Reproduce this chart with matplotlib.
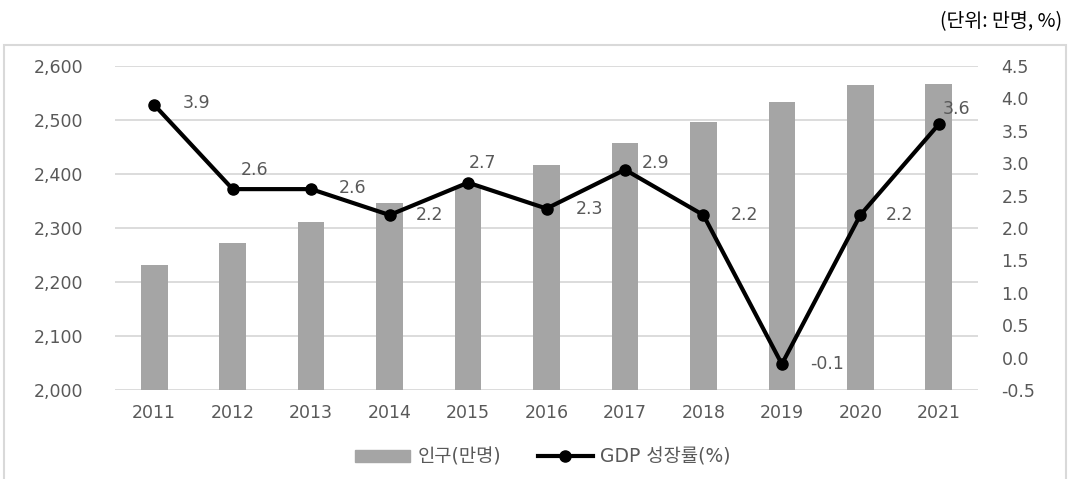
import matplotlib.pyplot as plt
import matplotlib.patches as mpatches
from matplotlib.lines import Line2D
import numpy as np

plt.rcParams['font.family'] = ['DejaVu Sans', 'Noto Sans CJK KR']

# data
years = ['2011', '2012', '2013', '2014', '2015', '2016',
         '2017', '2018', '2019', '2020', '2021']
population = [2231, 2272, 2312, 2346, 2378, 2417, 2457, 2496, 2533, 2564, 2567]
gdp_growth = [3.9, 2.6, 2.6, 2.2, 2.7, 2.3, 2.9, 2.2, -0.1, 2.2, 3.6]
gdp_labels = ['3.9', '2.6', '2.6', '2.2', '2.7', '2.3', '2.9', '2.2', '-0.1', '2.2', '3.6']

# label offsets in pixels (Excel pushed some of them around)
label_offsets = [(42, 2), (22, 19), (41, 1), (40, 0), (14, 20), (43, 0),
                 (31, 7), (41, 0), (45, 0), (39, 0), (18, 15)]

text_gray = '#595959'
bar_gray = '#a5a5a5'
grid_gray = '#d9d9d9'

fig = plt.figure(figsize=(10.71, 4.79), dpi=100)
ax = fig.add_axes([115 / 1071, 1 - 390 / 479, (978 - 115) / 1071, (390 - 66) / 479])

x = np.arange(len(years))
ax.bar(x, population, width=0.34, color=bar_gray, zorder=2)
ax.set_ylim(2000, 2600)
ax.set_yticks(np.arange(2000, 2601, 100))
ax.set_yticklabels([f'{v:,}' for v in range(2000, 2601, 100)])
ax.set_xlim(-0.5, len(years) - 0.5)
ax.set_xticks(x)
ax.set_xticklabels(years)
ax.grid(axis='y', color=grid_gray, linewidth=1.3, zorder=0)
ax.set_axisbelow(True)
for s in ax.spines.values():
    s.set_visible(False)
ax.tick_params(axis='y', length=0, pad=23, labelsize=12.5, labelcolor=text_gray)
ax.tick_params(axis='x', length=0, pad=10, labelsize=12.5, labelcolor=text_gray)

ax2 = ax.twinx()
ax2.plot(x, gdp_growth, color='black', linewidth=3, marker='o', markersize=8, zorder=3)
ax2.set_ylim(-0.5, 4.5)
ax2.set_yticks(np.arange(-0.5, 4.51, 0.5))
ax2.set_yticklabels([f'{v:.1f}' for v in np.arange(-0.5, 4.51, 0.5)])
for s in ax2.spines.values():
    s.set_visible(False)
ax2.tick_params(axis='y', length=0, pad=17, labelsize=12.5, labelcolor=text_gray)

for xi, yi, lab, off in zip(x, gdp_growth, gdp_labels, label_offsets):
    ax2.annotate(lab, (xi, yi), xytext=off, textcoords='offset pixels',
                 ha='center', va='center', fontsize=12.5, color=text_gray)

# legend
handles = [mpatches.Patch(color=bar_gray, label='인구(만명)'),
           Line2D([0], [0], color='black', linewidth=3, marker='o', markersize=8,
                  label='GDP 성장률(%)')]
fig.legend(handles=handles, loc='center', bbox_to_anchor=(0.507, 1 - 457 / 479),
           ncol=2, frameon=False, fontsize=13.5, labelcolor=text_gray,
           handlelength=2.9, handleheight=0.55, handletextpad=0.4, columnspacing=2.0)

# chart frame and unit note
fig.patches.append(mpatches.Rectangle((4 / 1071, -0.01), 1062 / 1071, 1 - 45 / 479 + 0.01,
                                      transform=fig.transFigure, fill=False,
                                      edgecolor='#d9d9d9', linewidth=1.5))
fig.text(1062 / 1071, 1 - 22 / 479, '(단위: 만명, %)', ha='right', va='center',
         fontsize=14, color='black', family=['Noto Sans CJK KR', 'DejaVu Sans'])

fig.savefig('out.png', dpi=100, facecolor='white')
